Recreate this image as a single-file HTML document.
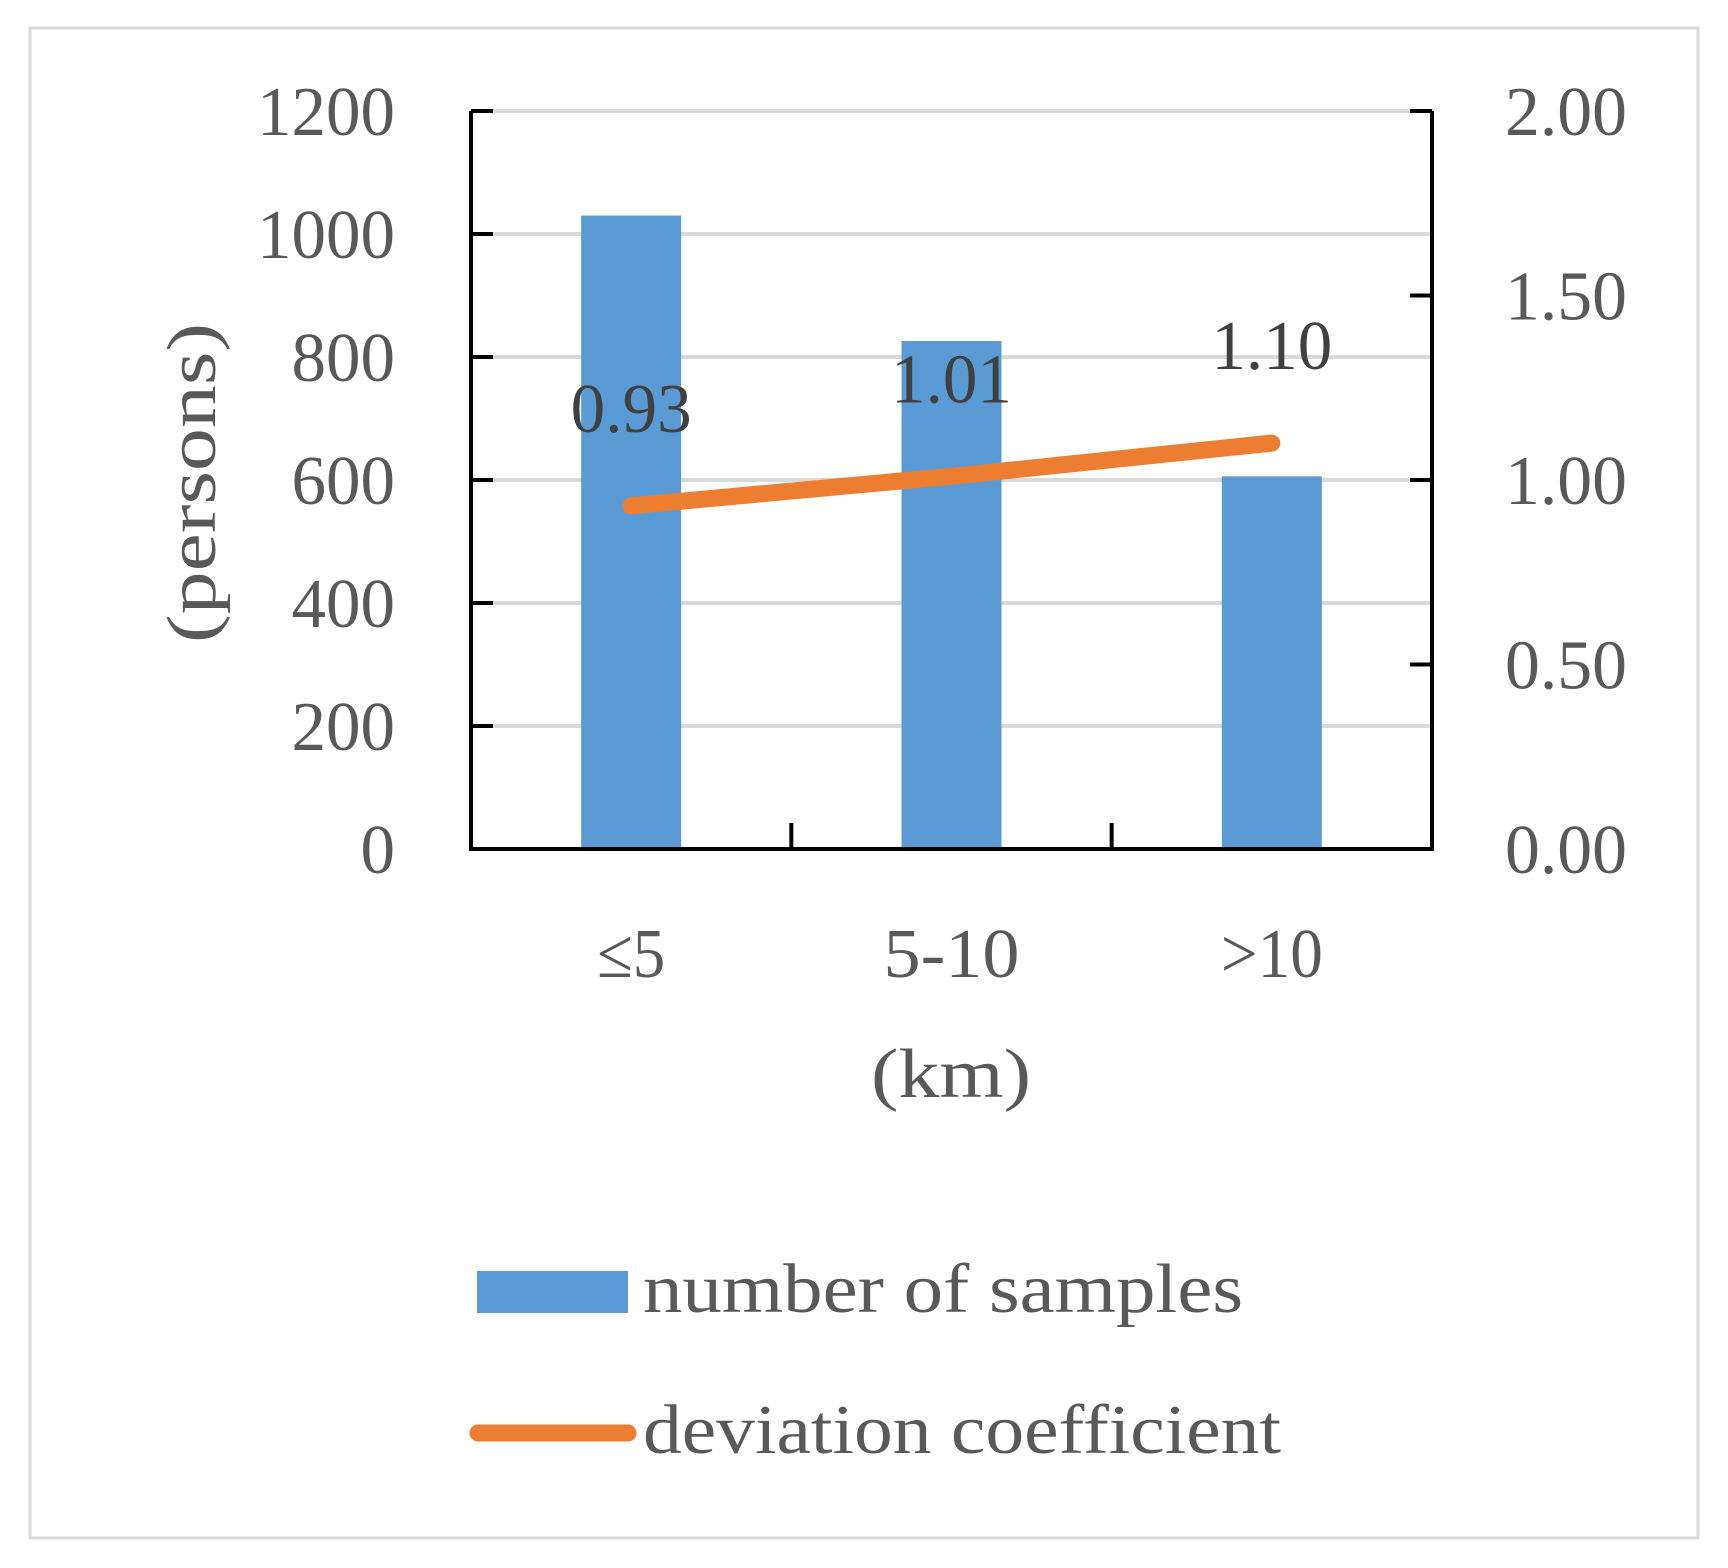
<!DOCTYPE html>
<html><head><meta charset="utf-8"><style>
html,body{margin:0;padding:0;background:#fff;}
svg{display:block;}
text{font-family:"Liberation Serif",serif;fill:#595959;}
</style></head><body>
<svg id="chart" width="1728" height="1568" viewBox="0 0 1728 1568" xmlns="http://www.w3.org/2000/svg">
<rect x="30" y="28" width="1668" height="1510" fill="#fff" stroke="#d9d9d9" stroke-width="3"/>
<g id="grid"></g><g id="bars"></g><g id="axes"></g><g id="line"></g><g id="labels"></g>
<text transform="translate(215,483) rotate(-90)" text-anchor="middle" font-size="70" textLength="320" lengthAdjust="spacingAndGlyphs">(persons)</text>
<text x="951" y="1097" text-anchor="middle" font-size="70" textLength="160" lengthAdjust="spacingAndGlyphs">(km)</text>
<rect x="477" y="1271" width="151" height="42" fill="#5b9bd5"/>
<text x="643" y="1312" font-size="70" textLength="600" lengthAdjust="spacingAndGlyphs">number of samples</text>
<line x1="478" y1="1433" x2="628" y2="1433" stroke="#ed7d31" stroke-width="17" stroke-linecap="round"/>
<text x="643" y="1453" font-size="70" textLength="638" lengthAdjust="spacingAndGlyphs">deviation coefficient</text>
</svg>
<script>
const categories = ["≤5", "5-10", ">10"];
const samples = [1030, 826, 606];
const deviation = [0.93, 1.01, 1.10];
const leftTicks = [0, 200, 400, 600, 800, 1000, 1200];
const rightTicks = [0, 0.5, 1.0, 1.5, 2.0];
const deviationLabels = ["0.93", "1.01", "1.10"];

const NS = "http://www.w3.org/2000/svg";
const X0 = 471, X1 = 1432, Y0 = 849, Y1 = 111;
const yL = v => Y0 - (v / 1200) * (Y0 - Y1);
const yR = v => Y0 - (v / 2) * (Y0 - Y1);
const band = (X1 - X0) / categories.length;
const xC = i => X0 + band * (i + 0.5);
function mk(tag, attrs, parent, txt) {
  const e = document.createElementNS(NS, tag);
  for (const k in attrs) e.setAttribute(k, attrs[k]);
  if (txt !== undefined) e.textContent = txt;
  parent.appendChild(e);
  return e;
}
const grid = document.getElementById('grid'), bars = document.getElementById('bars'),
  axes = document.getElementById('axes'), lineG = document.getElementById('line'), labels = document.getElementById('labels');

leftTicks.forEach(t => {
  const y = yL(t);
  if (t > 0) {
    const g = mk('line', {x1: X0, x2: X1, y1: y, y2: y, stroke: '#d9d9d9', 'stroke-width': 4}, grid);
    
    
    const tk = mk('line', {x1: X0, x2: X0 + 22, y1: y, y2: y, stroke: '#000', 'stroke-width': 4}, axes);
    
    
  }
  const s = String(t);
  const lb = mk('text', {x: 395, y: y + 24, 'text-anchor': 'end', 'font-size': 70, textLength: s.length * 34.5, lengthAdjust: 'spacingAndGlyphs'}, labels, s);
  
  
});
rightTicks.forEach(t => {
  const y = yR(t);
  if (t > 0) {
    const tk = mk('line', {x1: X1 - 22, x2: X1, y1: y, y2: y, stroke: '#000', 'stroke-width': 4}, axes);
    
    
  }
  const lb = mk('text', {x: 1505, y: y + 24, 'font-size': 70, textLength: 122, lengthAdjust: 'spacingAndGlyphs'}, labels, t.toFixed(2));
  
  
});
categories.forEach((c, i) => {
  const b = mk('rect', {x: xC(i) - 50, y: yL(samples[i]), width: 100, height: Y0 - yL(samples[i]), fill: '#5b9bd5'}, bars);
  
  
  const lb = mk('text', {x: xC(i), y: 977, 'text-anchor': 'middle', 'font-size': 70, textLength: c.length * 34, lengthAdjust: 'spacingAndGlyphs'}, labels, c);
  
  
  if (i > 0) {
    const tk = mk('line', {x1: X0 + band * i, x2: X0 + band * i, y1: Y0 - 26, y2: Y0, stroke: '#000', 'stroke-width': 4}, axes);
    
    
  }
});
const ax = mk('path', {d: `M${X0},${Y1} V${Y0} H${X1} V${Y1}`, fill: 'none', stroke: '#000', 'stroke-width': 4}, axes);


const tl = mk('line', {x1: X0, x2: X0 + 22, y1: Y1, y2: Y1, stroke: '#000', 'stroke-width': 4}, axes);


const tr = mk('line', {x1: X1 - 22, x2: X1, y1: Y1, y2: Y1, stroke: '#000', 'stroke-width': 4}, axes);



const pts = deviation.map((v, i) => xC(i) + ',' + yR(v)).join(' ');
const pl = mk('polyline', {points: pts, fill: 'none', stroke: '#ed7d31', 'stroke-width': 17, 'stroke-linecap': 'round', 'stroke-linejoin': 'round'}, lineG);


deviation.forEach((v, i) => {
  const lb = mk('text', {x: xC(i), y: yR(v) - 74, 'text-anchor': 'middle', 'font-size': 70, textLength: 121, lengthAdjust: 'spacingAndGlyphs'}, labels, deviationLabels[i]);
  lb.style.fill = '#404040';
  
  
});
</script>
</body></html>
